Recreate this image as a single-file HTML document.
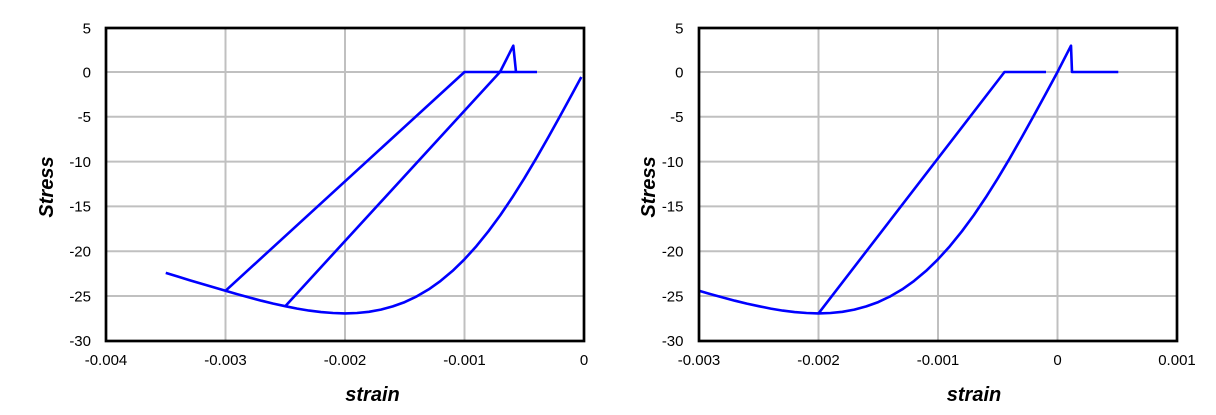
<!DOCTYPE html>
<html>
<head>
<meta charset="utf-8">
<style>
html,body{margin:0;padding:0;background:#fff;}
svg{display:block;}
text{font-family:"Liberation Sans",Arial,sans-serif;fill:#000;}
.t{font-size:15px;}
.ax{font-size:20px;font-weight:bold;font-style:italic;}
</style>
</head>
<body>
<svg width="1216" height="415" viewBox="0 0 1216 415" xmlns="http://www.w3.org/2000/svg">
<rect width="1216" height="415" fill="#fff"/>

<!-- ===== LEFT CHART ===== -->
<g stroke="#c0c0c0" stroke-width="2" fill="none">
  <line x1="106" y1="72" x2="584" y2="72"/>
  <line x1="106" y1="116.8" x2="584" y2="116.8"/>
  <line x1="106" y1="161.6" x2="584" y2="161.6"/>
  <line x1="106" y1="206.4" x2="584" y2="206.4"/>
  <line x1="106" y1="251.2" x2="584" y2="251.2"/>
  <line x1="106" y1="296" x2="584" y2="296"/>
  <line x1="225.5" y1="28" x2="225.5" y2="341"/>
  <line x1="345" y1="28" x2="345" y2="341"/>
  <line x1="464.5" y1="28" x2="464.5" y2="341"/>
</g>
<g stroke="#0000ff" stroke-width="2.6" fill="none" stroke-linejoin="round">
  <polyline points="165.75,272.9 177.7,276.5 189.65,280.2 201.6,283.8 213.55,287.3 225.5,290.8 237.45,294.2 249.4,297.5 261.35,300.7 273.3,303.6 285.25,306.2 297.2,308.6 309.15,310.6 321.1,312.1 333.05,313.0 345,313.4 356.95,313.0 368.9,311.8 380.85,309.6 392.8,306.4 404.75,302.1 416.7,296.4 428.65,289.4 440.6,280.9 452.55,270.9 464.5,259.3 476.45,246.1 488.4,231.3 500.35,215.1 512.3,197.4 524.25,178.4 536.2,158.4 548.15,137.5 560.1,116.0 572.05,94.1 581.3,77.0"/>
  <polyline points="225.5,290.8 464.5,72 537,72"/>
  <polyline points="285.25,306.2 500,72 513.3,45.7 516,72"/>
</g>
<rect x="106" y="28" width="478" height="313" fill="none" stroke="#000" stroke-width="2.7"/>
<g class="t" text-anchor="end">
  <text x="91" y="33.3">5</text>
  <text x="91" y="77.3">0</text>
  <text x="91" y="122.1">-5</text>
  <text x="91" y="166.9">-10</text>
  <text x="91" y="211.7">-15</text>
  <text x="91" y="256.5">-20</text>
  <text x="91" y="301.3">-25</text>
  <text x="91" y="346.1">-30</text>
</g>
<g class="t" text-anchor="middle">
  <text x="106" y="365">-0.004</text>
  <text x="225.5" y="365">-0.003</text>
  <text x="345" y="365">-0.002</text>
  <text x="464.5" y="365">-0.001</text>
  <text x="584" y="365">0</text>
</g>
<text class="ax" x="372.5" y="401" text-anchor="middle">strain</text>
<text class="ax" transform="translate(53,187) rotate(-90)" text-anchor="middle">Stress</text>

<!-- ===== RIGHT CHART ===== -->
<g stroke="#c0c0c0" stroke-width="2" fill="none">
  <line x1="699" y1="72" x2="1177" y2="72"/>
  <line x1="699" y1="116.8" x2="1177" y2="116.8"/>
  <line x1="699" y1="161.6" x2="1177" y2="161.6"/>
  <line x1="699" y1="206.4" x2="1177" y2="206.4"/>
  <line x1="699" y1="251.2" x2="1177" y2="251.2"/>
  <line x1="699" y1="296" x2="1177" y2="296"/>
  <line x1="818.5" y1="28" x2="818.5" y2="341"/>
  <line x1="938" y1="28" x2="938" y2="341"/>
  <line x1="1057.5" y1="28" x2="1057.5" y2="341"/>
</g>
<g stroke="#0000ff" stroke-width="2.6" fill="none" stroke-linejoin="round">
  <polyline points="699,290.8 710.95,294.2 722.9,297.5 734.85,300.7 746.8,303.6 758.75,306.2 770.7,308.6 782.65,310.6 794.6,312.1 806.55,313.0 818.5,313.4 830.45,313.0 842.4,311.8 854.35,309.6 866.3,306.4 878.25,302.1 890.2,296.4 902.15,289.4 914.1,280.9 926.05,270.9 938,259.3 949.95,246.1 961.9,231.3 973.85,215.1 985.8,197.4 997.75,178.4 1009.7,158.4 1021.65,137.5 1033.6,116.0 1045.55,94.1 1057.5,72 1071,45.7 1072,72 1118.3,72"/>
  <polyline points="818.5,313.4 1004.5,72 1046,72"/>
</g>
<rect x="699" y="28" width="478" height="313" fill="none" stroke="#000" stroke-width="2.7"/>
<g class="t" text-anchor="end">
  <text x="683.5" y="33.3">5</text>
  <text x="683.5" y="77.3">0</text>
  <text x="683.5" y="122.1">-5</text>
  <text x="683.5" y="166.9">-10</text>
  <text x="683.5" y="211.7">-15</text>
  <text x="683.5" y="256.5">-20</text>
  <text x="683.5" y="301.3">-25</text>
  <text x="683.5" y="346.1">-30</text>
</g>
<g class="t" text-anchor="middle">
  <text x="699" y="365">-0.003</text>
  <text x="818.5" y="365">-0.002</text>
  <text x="938" y="365">-0.001</text>
  <text x="1057.5" y="365">0</text>
  <text x="1177" y="365">0.001</text>
</g>
<text class="ax" x="974" y="401" text-anchor="middle">strain</text>
<text class="ax" transform="translate(655,187) rotate(-90)" text-anchor="middle">Stress</text>
</svg>
</body>
</html>
